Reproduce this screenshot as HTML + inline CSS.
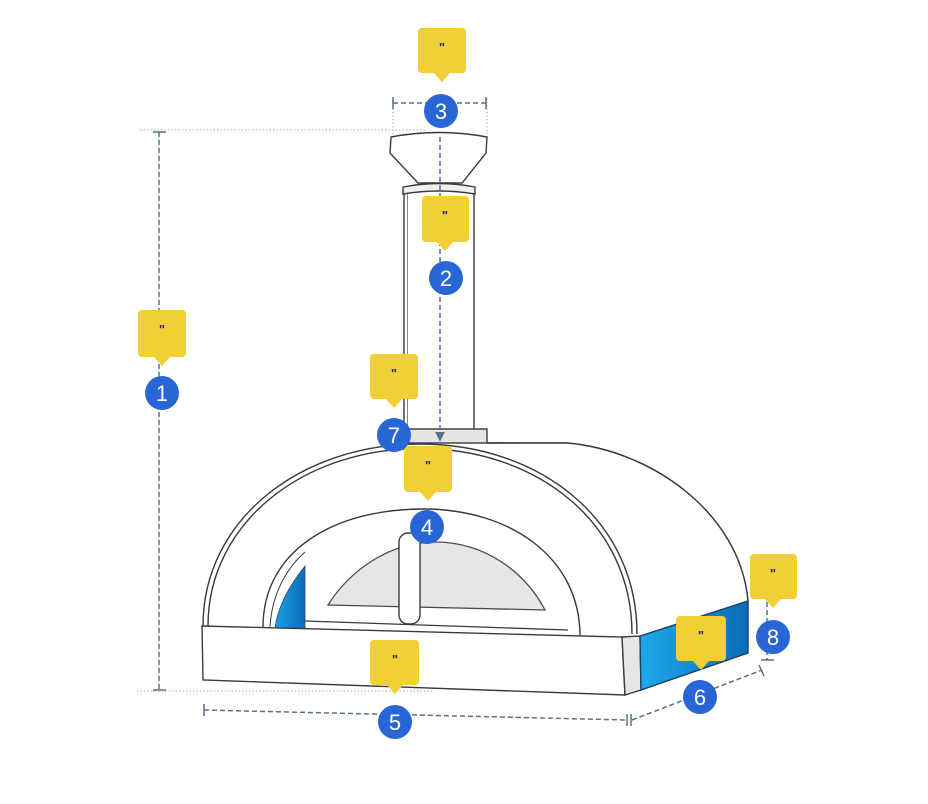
<!DOCTYPE html>
<html><head><meta charset="utf-8">
<style>
html,body{margin:0;padding:0;background:#fff;}
svg{display:block;}
.num{font-family:"Liberation Sans",sans-serif;font-size:22px;fill:#fff;text-anchor:middle;}
.q{font-family:"Liberation Sans",sans-serif;font-size:13px;font-weight:bold;fill:#17304f;text-anchor:middle;}
</style></head>
<body>
<svg width="928" height="804" viewBox="0 0 928 804" xmlns="http://www.w3.org/2000/svg">
<defs>
<linearGradient id="bl" x1="0" y1="0" x2="1" y2="0">
<stop offset="0" stop-color="#1ea8ec"/><stop offset="1" stop-color="#0b6cb8"/>
</linearGradient>
<linearGradient id="bl2" x1="0" y1="0" x2="1" y2="0">
<stop offset="0" stop-color="#1a9ee4"/><stop offset="1" stop-color="#0b6cbc"/>
</linearGradient>
</defs>

<!-- extension dotted lines -->
<g stroke="#bcc8d4" stroke-width="1.5" stroke-dasharray="1.5 2" fill="none">
<line x1="140" y1="130" x2="425" y2="130"/>
<line x1="137" y1="691" x2="432" y2="691"/>
<line x1="393" y1="98" x2="393" y2="134"/>
<line x1="487" y1="98" x2="487" y2="134"/>
</g>

<!-- Chimney -->
<g stroke="#3a3a3a" stroke-width="1.4" fill="#fff">
<rect x="404" y="188" width="70" height="242"/>
<line x1="407.5" y1="194" x2="407.5" y2="429" stroke="#888" stroke-width="1"/>
<path d="M403,187 Q439,180 475,187 L475,194 Q439,188 403,194 Z" fill="#f0f0f0"/>
<path d="M391,137 Q439,128 487,137 L486,153 L462,183 L418,183 L390,153 Z"/>
<rect x="403" y="429" width="84" height="14" fill="#e4e4e4"/>
</g>

<!-- Dome right side -->
<g stroke="#3a3a3a" stroke-width="1.4" fill="none">
<path d="M487,443 L567,443 C650,450 740,512 748,601"/>
</g>
<!-- fill dome body white -->
<path d="M203,625 C203,520 300,445 420,445 L567,443 C650,450 740,512 748,601 L748,653 L641,690 L625,695 L203,680 Z" fill="#fff" stroke="none"/>
<path d="M567,443 C650,450 740,512 748,601" stroke="#3a3a3a" stroke-width="1.4" fill="none"/>
<line x1="487" y1="443" x2="567" y2="443" stroke="#3a3a3a" stroke-width="1.4"/>

<!-- Front arches -->
<g stroke="#3a3a3a" stroke-width="1.4" fill="none">
<path d="M203,626 C203,520 300,444 420,444 C540,444 637,520 637,634"/>
<path d="M208,626 C208,523 303,448.5 420,448.5 C537,448.5 632,523 632,634"/>
<path d="M263,627 C263,550 335,509 423,509 C511,509 580,558 580,636"/>
<path d="M270,627 C272,590 290,565 305,552" stroke-width="1"/>
</g>

<!-- blue wedge -->
<path d="M275,628 C278,605 290,585 305,566 L305,628 Z" fill="url(#bl2)" stroke="#2a4a6a" stroke-width="0.8"/>

<!-- door window -->
<path d="M328,605 C350,570 390,542 435,542 C485,542 525,572 545,610 Z" fill="#e6e6e6" stroke="#4a4a4a" stroke-width="1.3"/>
<line x1="305" y1="621" x2="568" y2="630" stroke="#3a3a3a" stroke-width="1.3"/>
<rect x="399" y="533" width="21" height="91" rx="9" fill="#fff" stroke="#3a3a3a" stroke-width="1.4"/>

<!-- Base -->
<g stroke="#3a3a3a" stroke-width="1.4">
<path d="M202,626 L622,637 L625,695 L203,680 Z" fill="#fff"/>
<path d="M622,637 L640,636 L641,690 L625,695 Z" fill="#e6e6e6"/>
<path d="M640,636 L748,601 L748,653 L641,690 Z" fill="url(#bl)" stroke="#1f3f60"/>
</g>

<!-- Dimension lines -->
<g stroke="#5a6f86" stroke-width="1.5" fill="none" stroke-dasharray="5 3">
<line x1="159" y1="132" x2="159" y2="690"/>
<line x1="440" y1="137" x2="440" y2="436"/>
<line x1="393" y1="103" x2="486" y2="103"/>
<line x1="204" y1="710" x2="627" y2="720"/>
<line x1="632" y1="720" x2="762" y2="670"/>
<line x1="767" y1="602" x2="767" y2="660"/>
</g>
<g stroke="#5a6f86" stroke-width="1.5" fill="none">
<line x1="153" y1="132" x2="166" y2="132"/>
<line x1="153" y1="690" x2="166" y2="690"/>
<line x1="393" y1="97" x2="393" y2="109"/>
<line x1="486" y1="97" x2="486" y2="109"/>
<line x1="204" y1="704" x2="204" y2="716"/>
<line x1="627" y1="714" x2="627" y2="726"/>
<line x1="631" y1="714" x2="631" y2="726"/>
<line x1="759" y1="665" x2="764" y2="676"/>
<line x1="761" y1="660" x2="774" y2="660"/>
<path d="M436,432 L440,440 L444,432" fill="#5a6f86"/>
</g>

<!-- Tags -->
<g fill="#f2cf37">
<rect x="138" y="310" width="48" height="47" rx="4"/><path d="M153,356 L171,356 L162,366 Z"/>
<rect x="422" y="196" width="47" height="46" rx="4"/><path d="M436,241 L454,241 L445,251 Z"/>
<rect x="418" y="28" width="48" height="45" rx="4"/><path d="M433,72 L451,72 L442,82 Z"/>
<rect x="370" y="354" width="48" height="45" rx="4"/><path d="M385,398 L403,398 L394,408 Z"/>
<rect x="404" y="446" width="48" height="46" rx="4"/><path d="M419,491 L437,491 L428,501 Z"/>
<rect x="370" y="640" width="49" height="45" rx="4"/><path d="M386,684 L404,684 L395,694 Z"/>
<rect x="676" y="616" width="50" height="45" rx="4"/><path d="M692,660 L710,660 L701,670 Z"/>
<rect x="750" y="554" width="47" height="45" rx="4"/><path d="M764,598 L782,598 L773,608 Z"/>
</g>
<g>
<text class="q" x="162" y="334">"</text>
<text class="q" x="445" y="220">"</text>
<text class="q" x="442" y="52">"</text>
<text class="q" x="394" y="378">"</text>
<text class="q" x="428" y="470">"</text>
<text class="q" x="395" y="664">"</text>
<text class="q" x="701" y="640">"</text>
<text class="q" x="773" y="578">"</text>
</g>

<!-- Circles -->
<g fill="#2866d6">
<circle cx="162" cy="393" r="17"/>
<circle cx="446" cy="278" r="17"/>
<circle cx="441" cy="111" r="17"/>
<circle cx="394" cy="435" r="17"/>
<circle cx="427" cy="527" r="17"/>
<circle cx="395" cy="722" r="17"/>
<circle cx="700" cy="697" r="17"/>
<circle cx="773" cy="637" r="17"/>
</g>
<g>
<text class="num" x="162" y="401">1</text>
<text class="num" x="446" y="286">2</text>
<text class="num" x="441" y="119">3</text>
<text class="num" x="394" y="443">7</text>
<text class="num" x="427" y="535">4</text>
<text class="num" x="395" y="730">5</text>
<text class="num" x="700" y="705">6</text>
<text class="num" x="773" y="645">8</text>
</g>
</svg>
</body></html>
